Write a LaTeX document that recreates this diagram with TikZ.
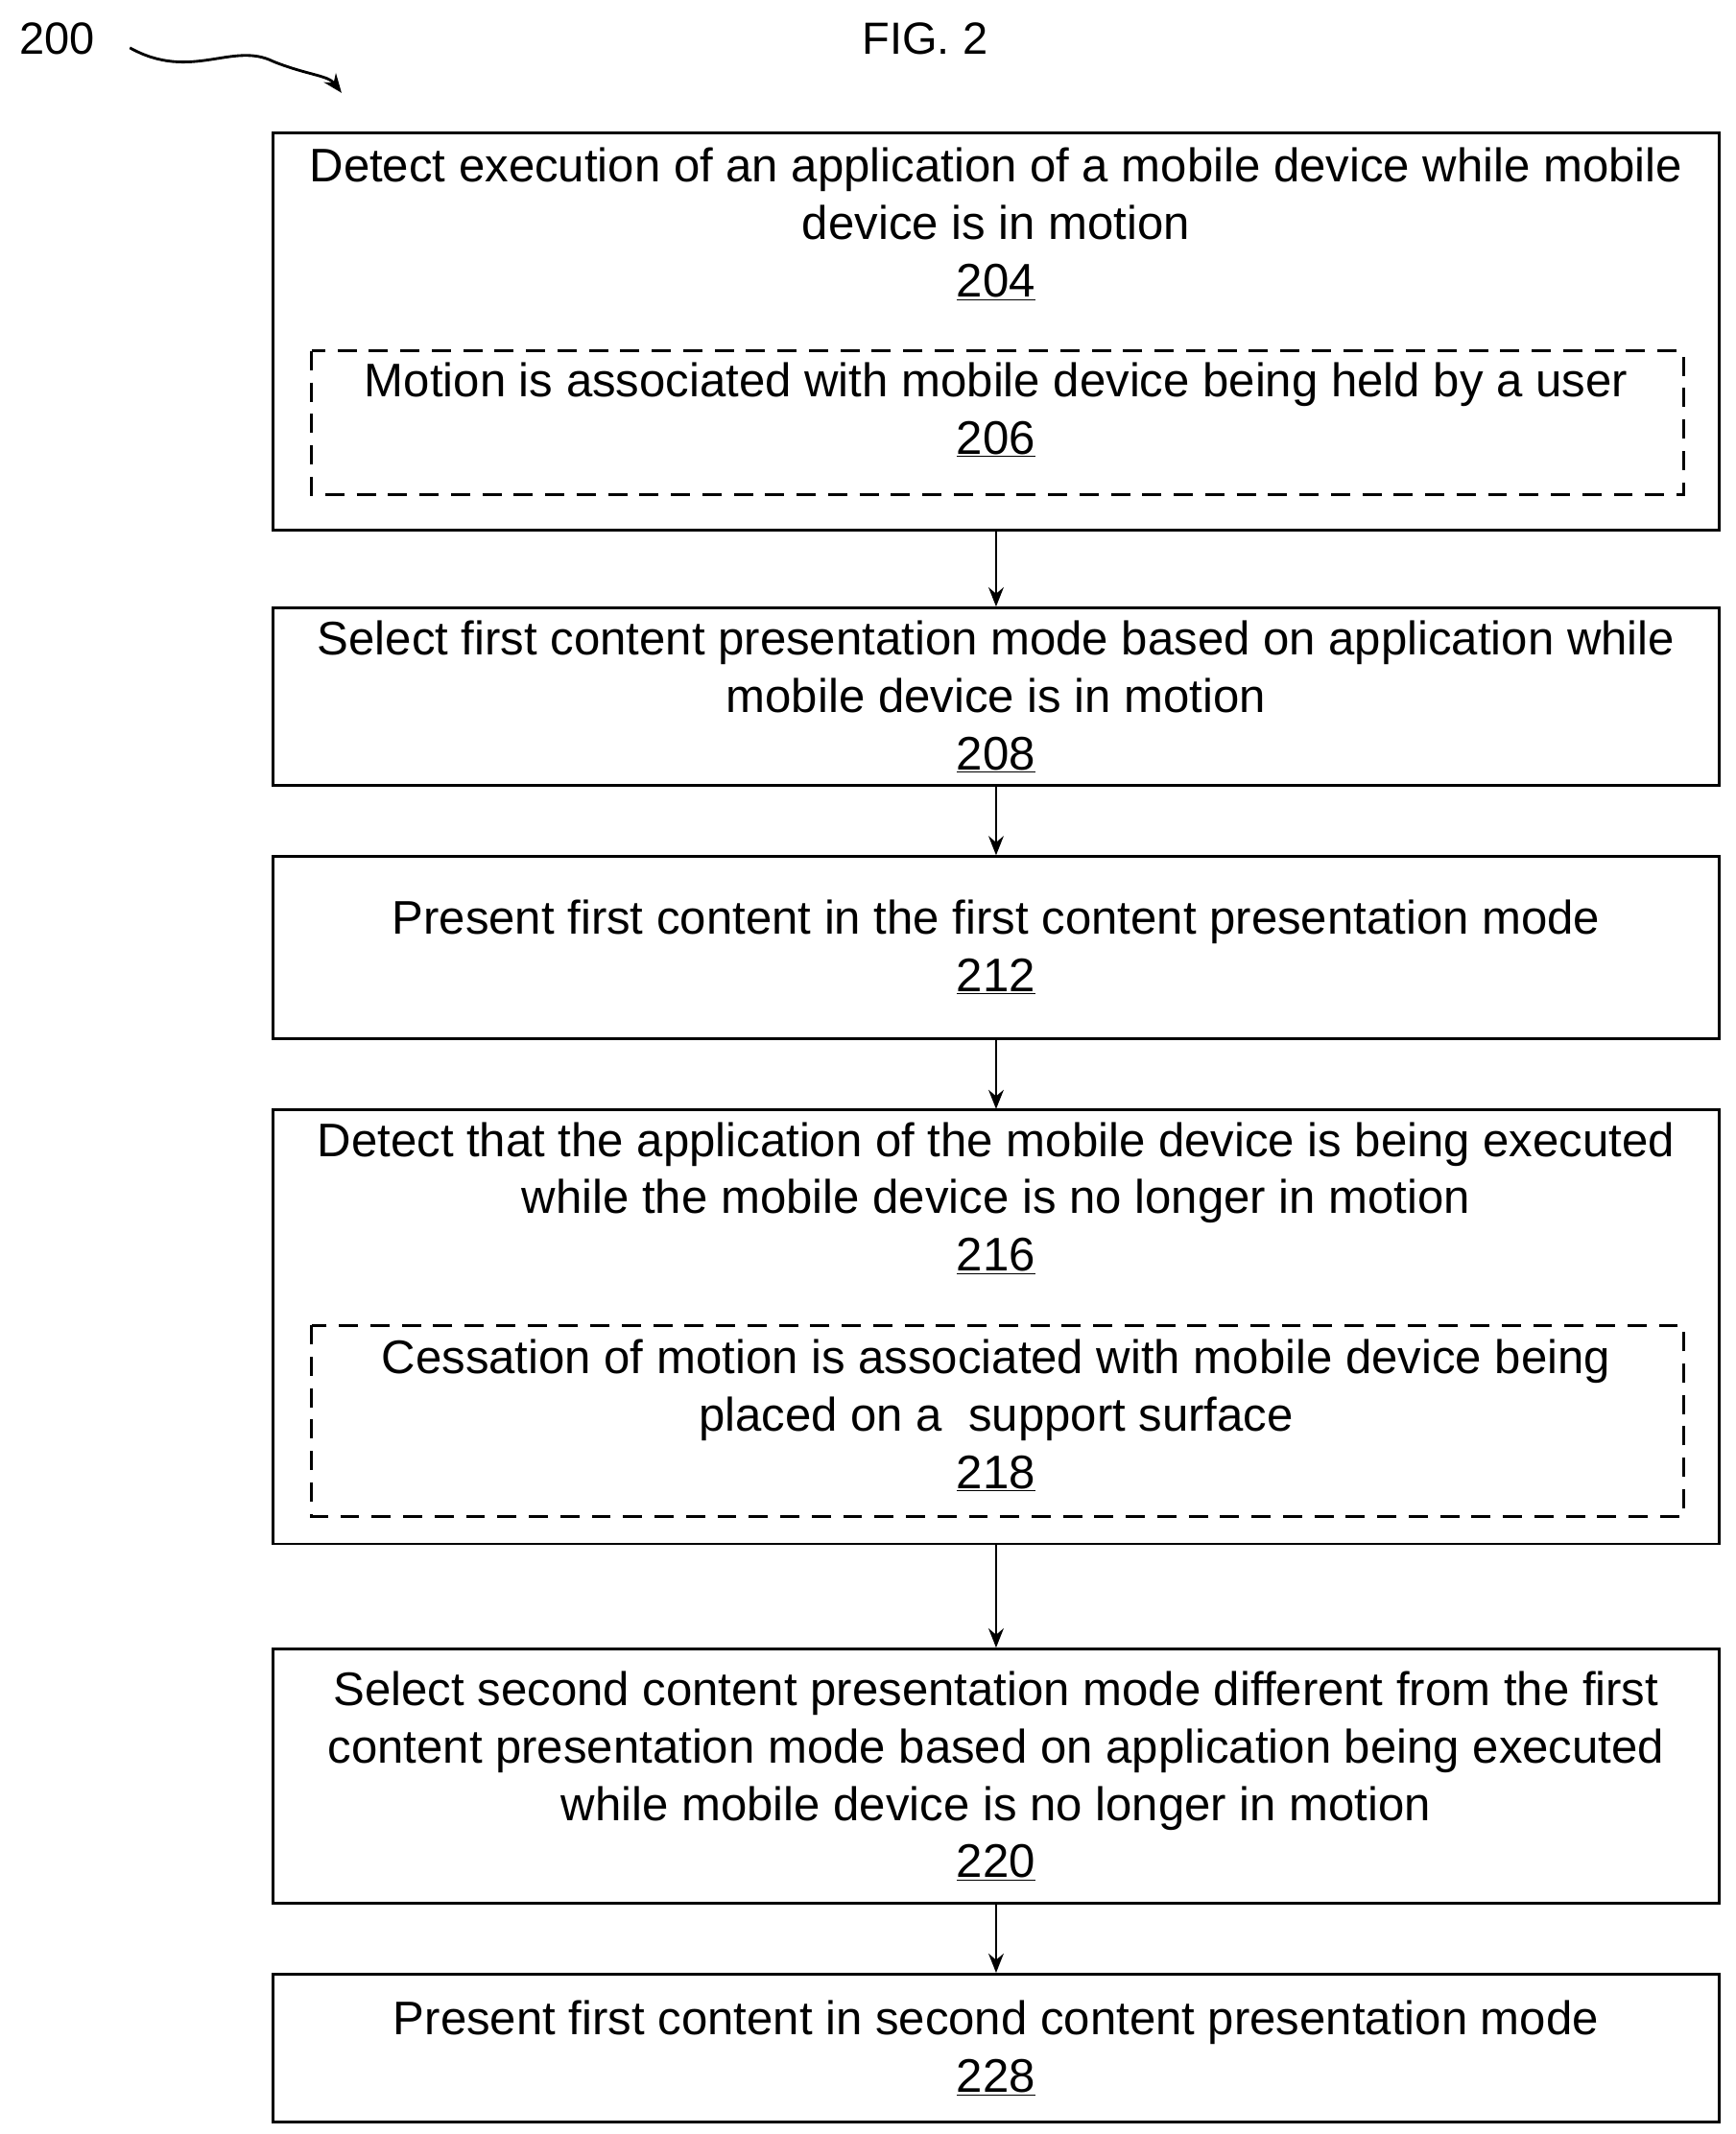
\documentclass[tikz,border=0pt]{standalone}
\usepackage{fontspec}
\setmainfont{Liberation Sans}
\usetikzlibrary{arrows.meta}
\begin{document}
\begin{tikzpicture}[x=1pt,y=-1pt,
  box/.style={draw,line width=2pt},
  dbox/.style={draw,line width=2pt,dash pattern=on 14pt off 9pt},
  txt/.style={font=\fontsize{34.5}{42}\selectfont,align=center,inner sep=0pt},
  arr/.style={-{Stealth[length=14pt,width=11pt]},line width=2pt}]
\useasboundingbox (0,0) rectangle (1270,1562);
\node[font=\fontsize{33}{36}\selectfont] (l200) at (42,28) {200};
\node[font=\fontsize{33}{36}\selectfont] (fig) at (677,28) {FIG. 2};
\coordinate (s0) at (95,35);
\coordinate (s1) at (250,68);
\draw[arr] (s0) .. controls (140,60) and (170,30) .. (200,45) .. controls (225,55) and (240,55) .. (s1);
% box 1
\draw[box] (200,97) rectangle (1258,388);
\node[minimum width=1058pt,minimum height=291pt] (b1) at (729,242.5) {};
\node[txt] (t1) at (729,164) {Detect execution of an application of a mobile device while mobile\\device is in motion\\\underline{204}};
\draw[dbox] (228,257) rectangle (1232,362);
\node[txt] (t1b) at (729,300) {Motion is associated with mobile device being held by a user\\\underline{206}};
% box 2
\node[box,minimum width=1058pt,minimum height=130pt,inner sep=0pt] (b2) at (729,510) {};
\node[txt] at (b2) {Select first content presentation mode based on application while\\mobile device is in motion\\\underline{208}};
% box 3
\node[box,minimum width=1058pt,minimum height=133pt,inner sep=0pt] (b3) at (729,693.5) {};
\node[txt] at (b3) {Present first content in the first content presentation mode\\\underline{212}};
% box 4
\draw[box] (200,812) rectangle (1258,1130);
\node[minimum width=1058pt,minimum height=318pt,inner sep=0pt] (b4) at (729,971) {};
\node[txt] at (729,877) {Detect that the application of the mobile device is being executed\\while the mobile device is no longer in motion\\\underline{216}};
\draw[dbox] (228,970) rectangle (1232,1110);
\node[txt] at (729,1036) {Cessation of motion is associated with mobile device being\\placed on a\ \ support surface\\\underline{218}};
% box 5
\node[box,minimum width=1058pt,minimum height=186pt,inner sep=0pt] (b5) at (729,1300) {};
\node[txt] at (b5) {Select second content presentation mode different from the first\\content presentation mode based on application being executed\\while mobile device is no longer in motion\\\underline{220}};
% box 6
\node[box,minimum width=1058pt,minimum height=108pt,inner sep=0pt] (b6) at (729,1499) {};
\node[txt] at (b6) {Present first content in second content presentation mode\\\underline{228}};
\draw[arr] (b1.south) -- (b2.north);
\draw[arr] (b2.south) -- (b3.north);
\draw[arr] (b3.south) -- (b4.north);
\draw[arr] (b4.south) -- (b5.north);
\draw[arr] (b5.south) -- (b6.north);
\end{tikzpicture}
\end{document}
